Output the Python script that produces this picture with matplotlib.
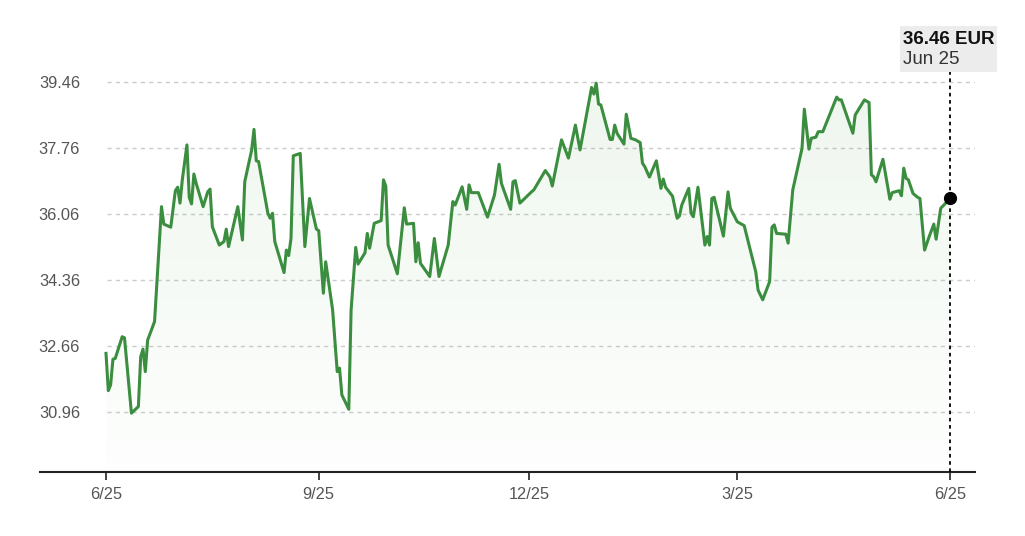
import numpy as np
import pandas as pd
import matplotlib
matplotlib.use("Agg")
import matplotlib.pyplot as plt
import matplotlib.dates as mdates
import matplotlib.transforms as mtransforms
from matplotlib.patches import Polygon, Rectangle

# ---------------- data ----------------
start_date = "2024-06-25"
day_offsets = [0, 1, 2, 3, 4, 7, 8, 11, 14, 15,
               16, 17, 18, 21, 24, 25, 28, 30, 31, 32,
               33, 35, 36, 37, 38, 39, 42, 44, 45, 46,
               49, 51, 52, 53, 57, 59, 60, 63, 64, 65,
               66, 70, 71, 72, 73, 77, 78, 79, 80, 81,
               84, 86, 88, 91, 92, 94, 95, 98, 100, 101,
               102, 105, 106, 108, 109, 112, 113, 114, 116, 119,
               120, 121, 122, 126, 129, 130, 133, 134, 135, 136,
               140, 142, 144, 148, 150, 151, 154, 156, 157, 158,
               161, 165, 168, 170, 171, 175, 176, 177, 179, 184,
               185, 190, 192, 193, 197, 200, 203, 205, 210, 211,
               212, 213, 214, 218, 219, 220, 221, 224, 225, 227,
               229, 231, 232, 233, 235, 238, 240, 241, 242, 245,
               247, 248, 249, 252, 253, 254, 256, 259, 260, 261,
               262, 263, 267, 269, 270, 273, 276, 281, 282, 284,
               287, 288, 289, 290, 294, 295, 297, 301, 302, 304,
               305, 307, 308, 310, 316, 317, 318, 323, 324, 328,
               330, 331, 332, 333, 336, 339, 340, 343, 344, 345,
               346, 347, 349, 351, 352, 354, 356, 358, 359, 361,
               362, 365]
prices = [32.47, 31.51, 31.66, 32.32, 32.34, 32.90, 32.87, 30.93, 31.10, 32.38,
          32.58, 32.00, 32.81, 33.29, 36.25, 35.80, 35.72, 36.66, 36.75, 36.34,
          36.94, 37.84, 36.49, 36.32, 37.09, 36.85, 36.25, 36.63, 36.70, 35.73,
          35.26, 35.35, 35.67, 35.22, 36.25, 35.39, 36.89, 37.71, 38.24, 37.43,
          37.41, 36.08, 35.95, 36.08, 35.35, 34.55, 35.13, 34.99, 35.43, 37.56,
          37.62, 35.22, 36.46, 35.67, 35.63, 34.02, 34.83, 33.59, 32.00, 32.09,
          31.40, 31.03, 33.59, 35.20, 34.77, 35.06, 35.56, 35.18, 35.82, 35.89,
          36.94, 36.78, 35.26, 34.52, 36.22, 35.80, 35.82, 34.83, 35.32, 34.79,
          34.45, 35.43, 34.45, 35.26, 36.38, 36.29, 36.76, 36.18, 36.81, 36.61,
          36.61, 35.98, 36.55, 37.34, 36.85, 36.18, 36.89, 36.92, 36.34, 36.63,
          36.68, 37.18, 37.01, 36.78, 37.97, 37.50, 38.35, 37.71, 39.32, 39.15,
          39.43, 38.89, 38.87, 37.98, 37.98, 38.35, 38.14, 37.86, 38.63, 38.01,
          37.97, 37.90, 37.37, 37.28, 37.01, 37.43, 36.72, 36.96, 36.75, 36.52,
          35.95, 36.01, 36.29, 36.72, 36.08, 35.99, 36.75, 35.26, 35.48, 35.26,
          36.46, 36.49, 35.49, 36.63, 36.21, 35.86, 35.76, 34.57, 34.10, 33.85,
          34.32, 35.72, 35.78, 35.56, 35.54, 35.31, 36.68, 37.75, 38.76, 37.73,
          38.01, 38.04, 38.18, 38.18, 39.07, 39.00, 39.00, 38.14, 38.61, 39.00,
          38.93, 37.07, 37.02, 36.89, 37.47, 36.44, 36.61, 36.66, 36.53, 37.24,
          36.98, 36.94, 36.59, 36.49, 36.46, 35.13, 35.48, 35.80, 35.41, 36.21,
          36.27, 36.46]
y_ticks = [30.96, 32.66, 34.36, 36.06, 37.76, 39.46]
x_tick_dates = ["2024-06-25", "2024-09-25", "2024-12-25", "2025-03-25", "2025-06-25"]
x_tick_labels = ["6/25", "9/25", "12/25", "3/25", "6/25"]
tooltip_value = "36.46 EUR"
tooltip_date = "Jun 25"

# ---------------- figure ----------------
plt.rcParams["font.family"] = ["Liberation Sans", "DejaVu Sans"]
W, H = 1025, 536
fig = plt.figure(figsize=(W / 100, H / 100), dpi=100)
fig.patch.set_facecolor("white")

ax_left, ax_right, ax_bottom, ax_top = 40, 975, 472, 10
ax = fig.add_axes([ax_left / W, (H - ax_bottom) / H,
                   (ax_right - ax_left) / W, (ax_bottom - ax_top) / H])

start = pd.Timestamp(start_date)
dates = start + pd.to_timedelta(day_offsets, unit="D")
x = mdates.date2num(dates)
x0 = mdates.date2num(start)
x_end = x[-1]

# pixel scale of the reference
px_per_day = (950 - 106) / (x_end - x0)
xlim = (x0 - (106 - ax_left) / px_per_day, x_end + (ax_right - 950) / px_per_day)
px_per_val = 66 / 1.7
ylim = (y_ticks[0] - (ax_bottom - 412) / px_per_val,
        y_ticks[0] + (412 - ax_top) / px_per_val)

line_color = "#3b8e3f"

# gradient fill under the line
ybot = ylim[0]
verts = np.column_stack([np.r_[x[0], x, x[-1]], np.r_[ybot, prices, ybot]])
clip = Polygon(verts, closed=True, facecolor="none", edgecolor="none")
ax.add_patch(clip)
grad = np.zeros((256, 1, 4))
grad[..., 0], grad[..., 1], grad[..., 2] = 0.24, 0.60, 0.22
grad[:, 0, 3] = np.linspace(0.01, 0.085, 256)
im = ax.imshow(grad, aspect="auto", origin="lower",
               extent=[x[0], x[-1], ybot, max(prices)], zorder=1)
im.set_clip_path(clip)

# grid lines
grid_start = x0 + 1 / px_per_day
ax.hlines(y_ticks, grid_start, xlim[1], colors="#cbcbcb",
          linestyles=(0, (3, 3)), linewidth=1.0, zorder=0.5)

# price line
ax.plot(x, prices, color=line_color, linewidth=2.2, zorder=3,
        solid_joinstyle="round")

# vertical dotted line + last point marker
trans = mtransforms.blended_transform_factory(ax.transData, ax.transAxes)
ax.plot([x_end, x_end], [0, (ax_bottom - 72) / (ax_bottom - ax_top)],
        transform=trans, color="black", linewidth=1.3,
        linestyle=(0, (2, 2)), zorder=4, clip_on=False)
ax.plot([x_end], [prices[-1]], "o", color="black", markersize=8.5, zorder=5)

ax.set_xlim(*xlim)
ax.set_ylim(*ylim)

# axes styling
for s in ["top", "right", "left"]:
    ax.spines[s].set_visible(False)
ax.spines["bottom"].set_color("#222222")
ax.spines["bottom"].set_linewidth(1.5)

ax.set_yticks(y_ticks, labels=[f"{v:.2f}" for v in y_ticks])
ax.tick_params(axis="y", length=0, pad=-28.8, labelsize=11.8, labelcolor="#555555")
for lbl in ax.get_yticklabels():
    lbl.set_horizontalalignment("right")

ax.set_xticks(mdates.date2num(pd.to_datetime(x_tick_dates)), labels=x_tick_labels)
ax.tick_params(axis="x", length=6, width=1.2, color="#222222", pad=5,
               labelsize=11.8, labelcolor="#555555")

# tooltip
fig.add_artist(Rectangle((900 / W, (H - 72) / H), 97 / W, 46 / H,
                         transform=fig.transFigure, facecolor="#ececec",
                         edgecolor="none", zorder=6))
fig.text(903 / W, (H - 39) / H, tooltip_value, fontsize=13.5, fontweight="bold",
         color="#111111", ha="left", va="center", zorder=7)
fig.text(903 / W, (H - 60) / H, tooltip_date, fontsize=13.5,
         color="#333333", ha="left", va="center", zorder=7)

fig.savefig("out.png", dpi=100, facecolor="white")
